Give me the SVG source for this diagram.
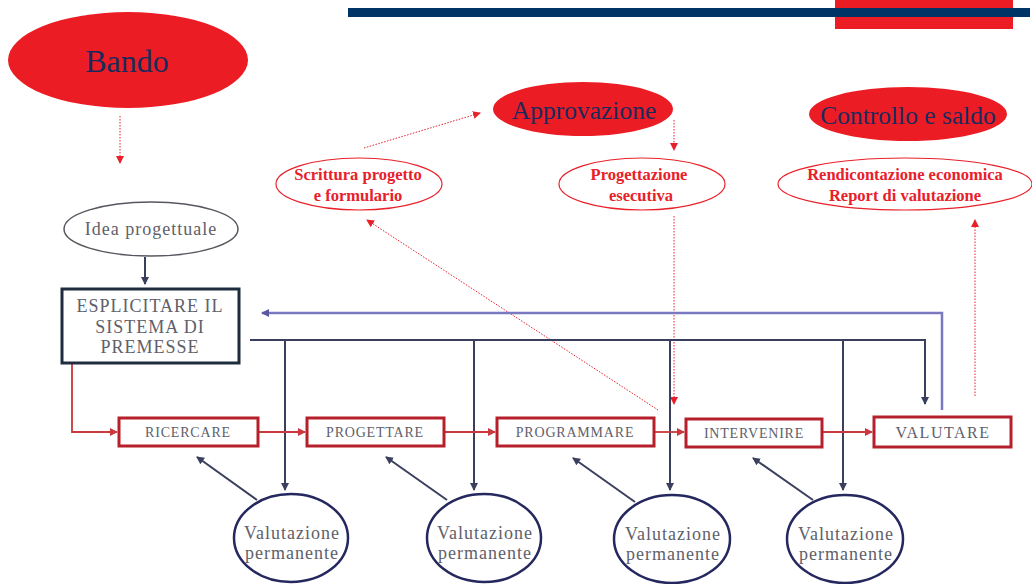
<svg xmlns="http://www.w3.org/2000/svg" width="1032" height="584" viewBox="0 0 1032 584">
<style>
text{font-family:"Liberation Serif","Times New Roman",serif;text-anchor:middle}
.big{fill:#1b2a5c;font-size:32px}
.mid{fill:#1b2a5c;font-size:25.5px}
.red{fill:#e8202a;font-size:16.5px;font-weight:bold}
.grey{fill:#60606a;font-size:18px;letter-spacing:1px}
.box{fill:#60606a;font-size:14px;letter-spacing:0.8px}
.solid{fill:#ec1c24}
.oval{fill:#fff;stroke:#e8202a;stroke-width:1.2}
.dot{stroke:#e8202a;stroke-width:1;stroke-dasharray:1.5 1.5;fill:none}
.step{fill:#fff;stroke:#b5202a;stroke-width:3}
.flow{stroke:#c8383c;stroke-width:1.8;fill:none}
.dark{stroke:#3a3f5e;stroke-width:2;fill:none}
.blue{stroke:#7a78c0;stroke-width:2.5;fill:none}
.circ{fill:#fff;stroke:#25285e;stroke-width:2.5}
</style>
<defs>
<marker id="ar" markerWidth="8" markerHeight="8" refX="7" refY="4" orient="auto" markerUnits="userSpaceOnUse"><path d="M0,0 L8,4 L0,8 z" fill="#e8202a"/></marker>
<marker id="ad" markerWidth="8" markerHeight="8" refX="7" refY="4" orient="auto" markerUnits="userSpaceOnUse"><path d="M0,0 L8,4 L0,8 z" fill="#3a3f5e"/></marker>
<marker id="ab" markerWidth="8" markerHeight="8" refX="7" refY="4" orient="auto" markerUnits="userSpaceOnUse"><path d="M0,0 L8,4 L0,8 z" fill="#5a58a0"/></marker>
<marker id="af" markerWidth="8" markerHeight="8" refX="7" refY="4" orient="auto" markerUnits="userSpaceOnUse"><path d="M0,0 L8,4 L0,8 z" fill="#c8383c"/></marker>
</defs>
<rect x="0" y="0" width="1032" height="584" fill="#fff"/>
<rect x="835" y="0" width="178" height="29" fill="#ec1c24"/>
<rect x="348" y="8" width="682" height="9" fill="#003366"/>

<g id="connectors">
<line class="dot" x1="120" y1="116" x2="120" y2="163" marker-end="url(#ar)"/>
<line class="dot" x1="364" y1="148" x2="480" y2="113" marker-end="url(#ar)"/>
<line class="dot" x1="674" y1="120" x2="674" y2="150" marker-end="url(#ar)"/>
<line class="dot" x1="674" y1="216" x2="674" y2="404" marker-end="url(#ar)"/>
<line class="dot" x1="658" y1="410" x2="367" y2="220" marker-end="url(#ar)"/>
<line class="dot" x1="975" y1="396" x2="975" y2="220" marker-end="url(#ar)"/>
<line class="dark" x1="145" y1="257" x2="145" y2="284" marker-end="url(#ad)"/>
<polyline class="blue" points="942,410 942,313 262,313" marker-end="url(#ab)"/>
<polyline class="dark" points="250,340 925,340 925,404" marker-end="url(#ad)"/>
<line class="dark" x1="285" y1="340" x2="285" y2="490" marker-end="url(#ad)"/>
<line class="dark" x1="474" y1="340" x2="474" y2="490" marker-end="url(#ad)"/>
<line class="dark" x1="670" y1="340" x2="670" y2="490" marker-end="url(#ad)"/>
<line class="dark" x1="843" y1="340" x2="843" y2="490" marker-end="url(#ad)"/>
<polyline class="flow" points="72,363 72,432 117,432" marker-end="url(#af)"/>
<line class="flow" x1="259" y1="432" x2="305" y2="432" marker-end="url(#af)"/>
<line class="flow" x1="445" y1="432" x2="495" y2="432" marker-end="url(#af)"/>
<line class="flow" x1="655" y1="432" x2="684" y2="432" marker-end="url(#af)"/>
<line class="flow" x1="823" y1="432" x2="872" y2="432" marker-end="url(#af)"/>
<line class="dark" x1="257" y1="500" x2="197" y2="457" marker-end="url(#ad)"/>
<line class="dark" x1="447" y1="500" x2="386" y2="457" marker-end="url(#ad)"/>
<line class="dark" x1="635" y1="502" x2="573" y2="458" marker-end="url(#ad)"/>
<line class="dark" x1="813" y1="500" x2="753" y2="458" marker-end="url(#ad)"/>
</g>

<g id="bando"><ellipse class="solid" cx="128" cy="60" rx="120" ry="48"/><text class="big" x="127" y="72">Bando</text></g>
<g id="approvazione"><ellipse class="solid" cx="583" cy="109" rx="90" ry="27"/><text class="mid" x="584" y="119">Approvazione</text></g>
<g id="controllo"><ellipse class="solid" cx="908" cy="114" rx="99" ry="27"/><text class="mid" x="908" y="124">Controllo e saldo</text></g>
<g id="scrittura"><ellipse class="oval" cx="359" cy="184" rx="83" ry="26"/><text class="red" x="358" y="180">Scrittura progetto</text><text class="red" x="358" y="201">e formulario</text></g>
<g id="progettazione"><ellipse class="oval" cx="642" cy="184" rx="83" ry="26"/><text class="red" x="639" y="180">Progettazione</text><text class="red" x="641" y="201">esecutiva</text></g>
<g id="rendicontazione"><ellipse class="oval" cx="905" cy="184" rx="127" ry="26"/><text class="red" x="905" y="180">Rendicontazione economica</text><text class="red" x="905" y="201">Report di valutazione</text></g>

<g id="idea"><ellipse cx="151" cy="229" rx="87" ry="27" fill="#fff" stroke="#55585e" stroke-width="1.5"/><text class="grey" x="151" y="235">Idea progettuale</text></g>
<g id="esplicitare"><rect x="62" y="289" width="177" height="74" fill="#fff" stroke="#1e2c3e" stroke-width="3"/><text class="grey" x="150" y="312">ESPLICITARE IL</text><text class="grey" x="150" y="333">SISTEMA DI</text><text class="grey" x="150" y="353">PREMESSE</text></g>

<g id="ricercare"><rect class="step" x="119" y="418" width="139" height="28"/><text class="box" x="188" y="437">RICERCARE</text></g>
<g id="progettare"><rect class="step" x="307" y="418" width="137" height="28"/><text class="box" x="375" y="437">PROGETTARE</text></g>
<g id="programmare"><rect class="step" x="497" y="418" width="157" height="28"/><text class="box" x="575" y="437">PROGRAMMARE</text></g>
<g id="intervenire"><rect class="step" x="686" y="419" width="136" height="28"/><text class="box" x="754" y="438">INTERVENIRE</text></g>
<g id="valutare"><rect class="step" x="874" y="417" width="137" height="30"/><text class="box" x="943" y="438" style="font-size:16px;letter-spacing:1.5px">VALUTARE</text></g>

<g id="val1"><ellipse class="circ" cx="291" cy="538" rx="57" ry="44"/><text class="grey" x="292" y="539">Valutazione</text><text class="grey" x="292" y="559">permanente</text></g>
<g id="val2"><ellipse class="circ" cx="484" cy="538" rx="57" ry="44"/><text class="grey" x="485" y="539">Valutazione</text><text class="grey" x="485" y="559">permanente</text></g>
<g id="val3"><ellipse class="circ" cx="672" cy="539" rx="58" ry="44"/><text class="grey" x="673" y="540">Valutazione</text><text class="grey" x="673" y="560">permanente</text></g>
<g id="val4"><ellipse class="circ" cx="845" cy="539" rx="58" ry="44"/><text class="grey" x="846" y="540">Valutazione</text><text class="grey" x="846" y="560">permanente</text></g>
</svg>
